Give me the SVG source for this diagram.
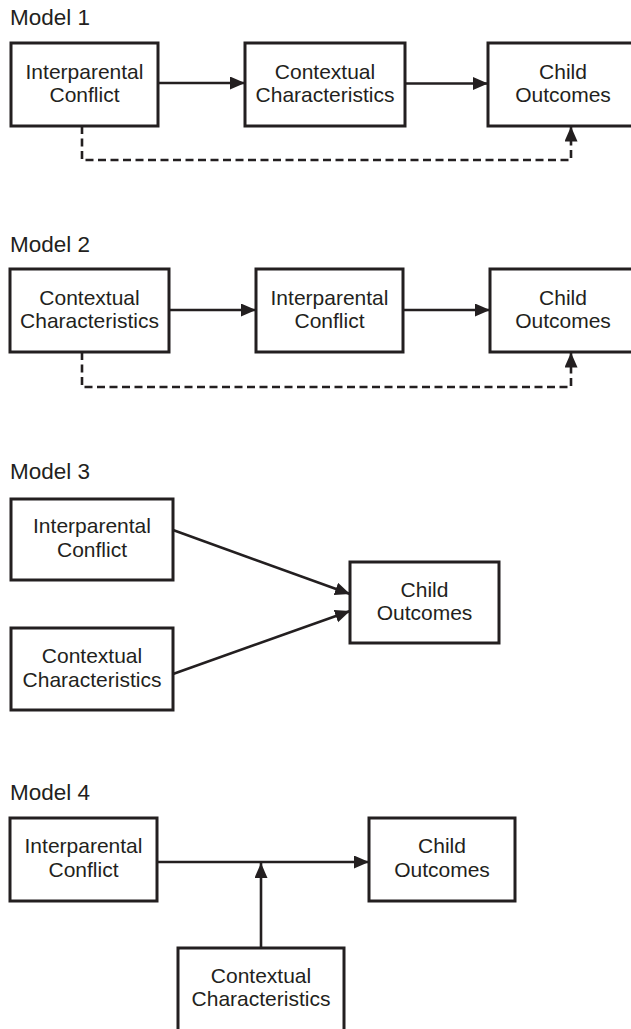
<svg xmlns="http://www.w3.org/2000/svg" width="631" height="1029" viewBox="0 0 631 1029">
  <style>
    .box { fill: #ffffff; stroke: #231f20; stroke-width: 3; }
    .lbl { font-family: "Liberation Sans", Arial, sans-serif; font-size: 21px; fill: #231f20; text-anchor: middle; }
    .ttl { font-family: "Liberation Sans", Arial, sans-serif; font-size: 22.5px; fill: #231f20; }
    .edge { fill: none; stroke: #231f20; stroke-width: 2.6; }
    .dash { stroke-dasharray: 8 4.5; }
  </style>
  <defs>
    <marker id="arr" markerUnits="userSpaceOnUse" markerWidth="16" markerHeight="14" refX="15" refY="6.5" orient="auto">
      <path d="M0,0 L15,6.5 L0,13 Z" fill="#231f20"/>
    </marker>
  </defs>

  <rect width="631" height="1029" fill="#ffffff"/>

  <!-- Model 1 -->
  <text class="ttl" x="10" y="25">Model 1</text>
  <g id="m1-conflict">
    <rect class="box" x="11" y="43" width="147" height="83"/>
    <text class="lbl" x="84.5" y="79">Interparental</text>
    <text class="lbl" x="84.5" y="102">Conflict</text>
  </g>
  <g id="m1-context">
    <rect class="box" x="245" y="43" width="160" height="83"/>
    <text class="lbl" x="325" y="79">Contextual</text>
    <text class="lbl" x="325" y="102">Characteristics</text>
  </g>
  <g id="m1-child">
    <rect class="box" x="488" y="43" width="150" height="83"/>
    <text class="lbl" x="563" y="79">Child</text>
    <text class="lbl" x="563" y="102">Outcomes</text>
  </g>

  <!-- Model 2 -->
  <text class="ttl" x="10" y="252">Model 2</text>
  <g id="m2-context">
    <rect class="box" x="10" y="269" width="159" height="83"/>
    <text class="lbl" x="89.5" y="305">Contextual</text>
    <text class="lbl" x="89.5" y="328">Characteristics</text>
  </g>
  <g id="m2-conflict">
    <rect class="box" x="256" y="269" width="147" height="83"/>
    <text class="lbl" x="329.5" y="305">Interparental</text>
    <text class="lbl" x="329.5" y="328">Conflict</text>
  </g>
  <g id="m2-child">
    <rect class="box" x="490" y="269" width="150" height="83"/>
    <text class="lbl" x="563" y="305">Child</text>
    <text class="lbl" x="563" y="328">Outcomes</text>
  </g>

  <!-- Model 3 -->
  <text class="ttl" x="10" y="479">Model 3</text>
  <g id="m3-conflict">
    <rect class="box" x="11" y="499" width="162" height="81"/>
    <text class="lbl" x="92" y="533">Interparental</text>
    <text class="lbl" x="92" y="557">Conflict</text>
  </g>
  <g id="m3-context">
    <rect class="box" x="11" y="628" width="162" height="82"/>
    <text class="lbl" x="92" y="663">Contextual</text>
    <text class="lbl" x="92" y="687">Characteristics</text>
  </g>
  <g id="m3-child">
    <rect class="box" x="350" y="562" width="149" height="81"/>
    <text class="lbl" x="424.5" y="597">Child</text>
    <text class="lbl" x="424.5" y="620">Outcomes</text>
  </g>

  <!-- Model 4 -->
  <text class="ttl" x="10" y="800">Model 4</text>
  <g id="m4-conflict">
    <rect class="box" x="10" y="818" width="147" height="83"/>
    <text class="lbl" x="83.5" y="853">Interparental</text>
    <text class="lbl" x="83.5" y="877">Conflict</text>
  </g>
  <g id="m4-child">
    <rect class="box" x="369" y="818" width="146" height="83"/>
    <text class="lbl" x="442" y="853">Child</text>
    <text class="lbl" x="442" y="877">Outcomes</text>
  </g>
  <g id="m4-context">
    <rect class="box" x="178" y="948" width="166" height="90"/>
    <text class="lbl" x="261" y="983">Contextual</text>
    <text class="lbl" x="261" y="1006">Characteristics</text>
  </g>

  <!-- connectors -->
  <g id="connectors">
    <line class="edge" x1="158" y1="83" x2="245" y2="83" marker-end="url(#arr)"/>
    <line class="edge" x1="405" y1="83.5" x2="488" y2="83.5" marker-end="url(#arr)"/>
    <polyline class="edge dash" points="82,126 82,160 571,160 571,126.5" marker-end="url(#arr)"/>

    <line class="edge" x1="169" y1="310" x2="256" y2="310" marker-end="url(#arr)"/>
    <line class="edge" x1="403" y1="310" x2="490" y2="310" marker-end="url(#arr)"/>
    <polyline class="edge dash" points="82,352 82,387 571,387 571,352.5" marker-end="url(#arr)"/>

    <line class="edge" x1="173" y1="530" x2="350" y2="594" marker-end="url(#arr)"/>
    <line class="edge" x1="173" y1="674" x2="350" y2="611" marker-end="url(#arr)"/>

    <line class="edge" x1="157" y1="862" x2="369" y2="862" marker-end="url(#arr)"/>
    <line class="edge" x1="261" y1="948" x2="261" y2="863" marker-end="url(#arr)"/>
  </g>
</svg>
